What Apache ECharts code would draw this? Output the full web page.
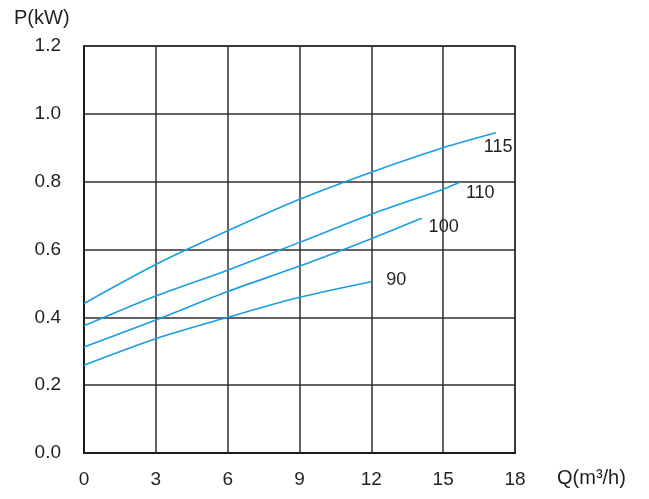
<!DOCTYPE html>
<html>
<head>
<meta charset="utf-8">
<script src="https://cdn.jsdelivr.net/npm/echarts@6/dist/echarts.min.js"></script>
<style>html,body{margin:0;padding:0;background:#fff;}#c{width:649px;height:499px;}</style>
</head>
<body>
<div id="c"></div>
<script>
var xTicks = [0, 3, 6, 9, 12, 15, 18];
var yTicks = ['0.0', '0.2', '0.4', '0.6', '0.8', '1.0', '1.2'];
var curveNames = ['115', '110', '100', '90'];
var curve115 = [[0, 0.441], [3, 0.556], [6, 0.655], [9, 0.748], [12, 0.828], [15, 0.900], [17.2, 0.944]];
var curve110 = [[0, 0.375], [3, 0.463], [6, 0.539], [9, 0.621], [12, 0.704], [15, 0.778], [15.7, 0.798]];
var curve100 = [[0, 0.3125], [3, 0.392], [6, 0.476], [9, 0.551], [12, 0.632], [14.1, 0.692]];
var curve90 = [[0, 0.259], [3, 0.337], [6, 0.400], [9, 0.459], [12, 0.505]];

var curves = [curve115, curve110, curve100, curve90];
var labelOffsets = [[-20, 14], [-2, 11], [-1, 9], [7, -2]];
var txt = '#231f20';
var gridCol = '#332d2e';

var chart = echarts.init(document.getElementById('c'));
chart.setOption({
  animation: false,
  backgroundColor: '#fff',
  grid: { left: 84, right: 134, top: 46, bottom: 46, show: true, borderColor: gridCol, borderWidth: 1.5 },
  xAxis: {
    type: 'value', min: xTicks[0], max: xTicks[xTicks.length - 1], interval: 3,
    axisLine: { show: true, lineStyle: { color: '#1e1a1b', width: 2 } },
    axisTick: { show: false },
    splitLine: { show: true, lineStyle: { color: gridCol, width: 1.5 } },
    axisLabel: { color: txt, fontSize: 19, fontFamily: 'Liberation Sans, Arial', margin: 17 }
  },
  yAxis: {
    type: 'value', min: 0, max: 1.2, interval: 0.2,
    axisLine: { show: true, lineStyle: { color: '#1e1a1b', width: 2 } },
    axisTick: { show: false },
    splitLine: { show: true, lineStyle: { color: gridCol, width: 1.5 } },
    axisLabel: {
      color: txt, fontSize: 19, fontFamily: 'Liberation Sans, Arial', margin: 23,
      formatter: function (v) { return yTicks[Math.round(v / 0.2)]; }
    }
  },
  graphic: [
    { type: 'text', left: 14, top: 8, style: { text: 'P(kW)', fill: txt, font: '20px "Liberation Sans", Arial' } },
    { type: 'text', left: 557, top: 468, style: { text: 'Q(m³/h)', fill: txt, font: '20px "Liberation Sans", Arial' } }
  ],
  series: curves.map(function (d, i) {
    return {
      type: 'line', name: curveNames[i], data: d, smooth: 0.3, symbol: 'none',
      lineStyle: { color: '#1a9ee2', width: 1.6 },
      endLabel: {
        show: true, formatter: curveNames[i], color: txt, fontSize: 18,
        fontFamily: 'Liberation Sans, Arial', offset: labelOffsets[i]
      }
    };
  })
});
</script>
</body>
</html>
